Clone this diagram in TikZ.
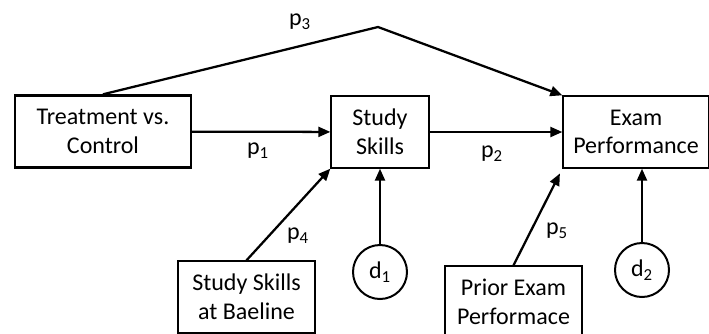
\documentclass[tikz,border=0pt]{standalone}
\usepackage{fontspec}
\setmainfont{Carlito}
\usetikzlibrary{arrows.meta}

\begin{document}
\begin{tikzpicture}[x=0.75pt, y=-0.75pt,
        every node/.style={font=\fontsize{18}{21.5}\selectfont},
        box/.style={draw, line width=1pt, minimum height=54pt, align=center, inner sep=0pt},
        thickbox/.style={box, line width=1.8pt},
        dist/.style={circle, draw, line width=1.5pt, minimum size=40.5pt, inner sep=0pt},
        path_arrow/.style={line width=1.7pt, -{Triangle[length=9pt, width=7.5pt]}},
        coef/.style={inner sep=0pt}
    ]
    \clip (0,0) rectangle (709,333);

    % Variables
    \node[thickbox, minimum width=132pt] (treat) at (103,131.5) {Treatment vs.\\Control};
    \node[box, minimum width=73.5pt] (study) at (380,132) {Study\\Skills};
    \node[box, minimum width=109.5pt] (exam) at (636,132) {Exam\\Performance};
    \node[box, minimum width=102.75pt] (base) at (246.5,297) {Study Skills\\at Baeline};
    \node[box, minimum width=102.75pt] (prior) at (513.5,302) {Prior Exam\\Performace};

    % Disturbances
    \node[dist] (d1) at (380,272) {d\textsubscript{1}};
    \node[dist] (d2) at (642,270) {d\textsubscript{2}};

    % Paths
    \coordinate (bend) at (378,27);
    \draw[path_arrow] (treat) -- (study);
    \draw[path_arrow] (study) -- (exam);
    \draw[path_arrow] (treat.north) -- (bend) -- (exam.north west);
    \draw[path_arrow] (base.north) -- (study.south west);
    \draw[path_arrow, shorten >=4pt] (prior.north) -- (exam.south west);
    \draw[path_arrow] (d1) -- (study);
    \draw[path_arrow] (d2) -- (exam.south -| d2);

    % Coefficients
    \node[coef] (p1) at (258,151) {p\textsubscript{1}};
    \node[coef] (p2) at (492,154) {p\textsubscript{2}};
    \node[coef] (p3) at (300,22) {p\textsubscript{3}};
    \node[coef] (p4) at (298,236) {p\textsubscript{4}};
    \node[coef] (p5) at (557,231) {p\textsubscript{5}};
\end{tikzpicture}
\end{document}
